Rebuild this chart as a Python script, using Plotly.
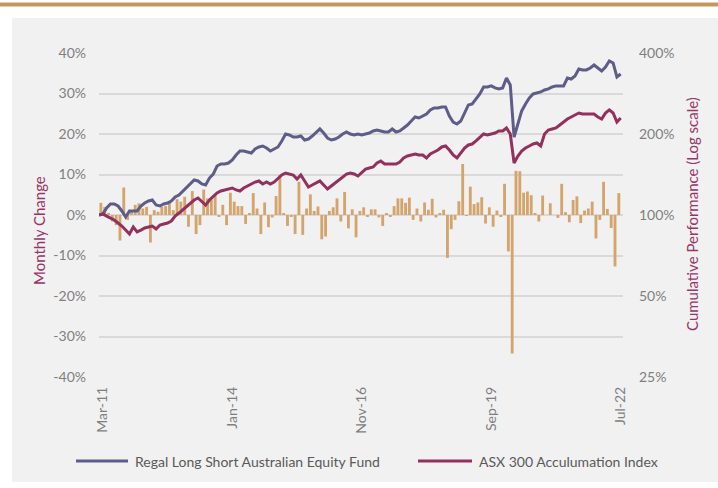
import numpy as np
import pandas as pd
import plotly.graph_objects as go

# ---------------- data ----------------
# month labels: Feb-11 is the base (100%) month of the cumulative lines
month_labels = pd.date_range("2011-02-01", "2022-07-01", freq="MS").strftime("%b-%y").tolist()
x_tick_labels = ["Mar-11", "Jan-14", "Nov-16", "Sep-19", "Jul-22"]

# Cumulative performance (growth of 100), Feb-11 .. Jul-22 (138 points)
regal_cum = [
    100.0, 100.9, 106.2, 109.9, 109.9, 108.0, 103.5, 98.3, 103.5, 103.5,
    103.5, 108.0, 110.8, 112.7, 113.7, 108.9, 108.0, 109.9, 110.8, 112.7,
    116.7, 118.7, 122.8, 126.0, 130.4, 134.9, 133.8, 130.4, 129.3, 137.2,
    142.0, 152.1, 154.7, 154.7, 156.0, 160.1, 167.1, 172.9, 172.9, 171.5,
    170.0, 175.9, 179.0, 180.5, 177.4, 172.9, 175.9, 179.0, 188.4, 200.0,
    198.3, 195.0, 195.0, 196.6, 190.0, 191.6, 196.6, 203.4, 208.8, 201.7,
    193.3, 190.0, 191.6, 195.0, 200.0, 203.4, 200.0, 198.3, 200.0, 198.3,
    200.0, 201.7, 205.3, 207.0, 205.3, 203.4, 203.4, 208.8, 203.4, 205.3,
    210.6, 216.0, 223.5, 231.3, 229.3, 233.3, 237.4, 245.7, 250.0, 250.0,
    252.0, 252.0, 233.3, 221.5, 217.8, 223.5, 239.4, 256.4, 258.6, 269.9,
    281.8, 299.1, 299.1, 301.8, 296.7, 294.2, 296.7, 322.9, 304.3, 194.9,
    219.7, 243.6, 258.6, 272.2, 281.8, 284.2, 286.6, 291.6, 294.2, 299.1,
    301.8, 301.8, 301.8, 322.9, 320.2, 328.5, 348.9, 346.0, 346.0, 351.9,
    361.0, 351.9, 343.1, 354.9, 373.7, 367.4, 325.7, 334.2,
]
asx_cum = [
    100.0, 100.9, 99.1, 97.5, 95.8, 93.4, 91.0, 87.9, 85.0, 90.2,
    86.5, 87.9, 89.5, 90.2, 91.0, 88.7, 91.8, 92.6, 93.4, 95.0,
    99.1, 101.7, 104.4, 107.1, 110.8, 113.7, 115.7, 112.7, 108.9, 113.7,
    117.6, 120.7, 122.8, 123.9, 124.9, 126.0, 123.9, 122.8, 126.0, 128.2,
    130.4, 132.6, 133.8, 130.4, 132.6, 130.4, 132.6, 136.1, 140.8, 143.2,
    142.0, 140.8, 136.1, 140.8, 133.8, 127.1, 129.3, 131.5, 133.8, 129.3,
    124.9, 128.2, 131.5, 134.9, 138.4, 142.0, 143.2, 142.0, 139.6, 144.5,
    148.2, 149.5, 150.8, 156.0, 158.7, 154.7, 154.7, 154.7, 154.7, 157.3,
    162.9, 165.7, 167.1, 168.6, 167.1, 167.1, 162.9, 168.6, 171.5, 174.4,
    179.0, 180.5, 174.4, 167.1, 162.9, 170.0, 177.4, 182.1, 183.6, 188.4,
    194.9, 200.0, 198.3, 200.0, 201.7, 205.3, 205.3, 210.6, 200.0, 156.0,
    165.7, 172.9, 177.4, 180.5, 183.6, 185.2, 180.5, 200.0, 207.0, 208.8,
    210.6, 216.0, 221.5, 227.4, 231.3, 235.4, 239.4, 237.4, 237.4, 237.4,
    237.4, 231.3, 227.4, 239.4, 245.7, 239.4, 221.5, 229.3,
]
# Regal monthly change (%), Mar-11 .. Jul-22 (137 bars)
regal_monthly = [
    3.0, 2.0, 0.5, -1.6, -2.5, -6.3, 6.8, -1.2, 0.8, 2.5,
    2.9, 1.6, 2.0, -6.8, 1.2, 0.8, 2.0, 2.2, 3.3, 1.2,
    3.9, 3.3, 4.5, -2.9, 5.9, -4.7, -2.5, 6.3, 4.1, 3.9,
    4.9, -0.4, 2.5, -2.5, 5.5, 3.3, 2.2, 2.2, -2.2, 0.5,
    5.4, 1.6, -4.7, 3.1, -3.0, -0.6, 4.7, 9.9, 0.5, -2.7,
    -0.5, -4.7, 8.2, -4.9, 1.6, 5.1, 1.0, 2.1, -6.0, -5.3,
    1.0, 1.9, 4.1, -1.6, 5.7, -3.3, 1.4, -5.5, 1.0, 1.9,
    -0.4, 1.4, 1.4, -0.6, -2.7, 0.4, -0.4, 2.2, 4.1, 4.1,
    3.0, 4.3, -1.2, 1.6, -1.6, 3.1, 1.3, 4.0, -0.6, 0.4,
    1.3, -10.6, -3.5, -1.2, 3.4, 12.6, -0.2, 7.0, 2.7, 3.1,
    4.4, -2.1, 1.9, -2.9, 1.1, -0.3, 7.7, -9.0, -34.2, 10.9,
    10.8, 5.5, 5.8, 4.9, 0.5, -1.6, 4.8, 0.0, 2.9, 0.0,
    -0.7, 7.7, 0.7, -1.8, 3.7, 4.6, -2.0, 1.1, 1.6, 3.3,
    -5.8, -1.2, 8.2, 1.5, -3.2, -12.7, 5.4,
]
left_ticks = [-40, -30, -20, -10, 0, 10, 20, 30, 40]
right_ticks = [25, 50, 100, 200, 400]
series_names = ["Regal Long Short Australian Equity Fund", "ASX 300 Acculumation Index"]

# ---------------- styling ----------------
GOLD = "#C4975F"
BAR = "#D3A46C"
REGAL = "#5E5C88"
ASX = "#93305E"
TITLE = "#9B3466"
TICK = "#7F7F7F"
GRID = "#D9D9D9"
FONT = "Lato"

line_x = np.arange(len(month_labels))
bar_x = line_x[1:] - 0.5
tickvals = [month_labels.index(t) for t in x_tick_labels]

fig = go.Figure()
fig.add_trace(go.Bar(x=bar_x, y=regal_monthly, marker=dict(color=BAR, line=dict(width=0)),
                     yaxis="y", showlegend=False, hoverinfo="skip"))
fig.add_trace(go.Scatter(x=line_x, y=regal_cum, mode="lines", yaxis="y2", name=series_names[0],
                         line=dict(color=REGAL, width=3), showlegend=False))
fig.add_trace(go.Scatter(x=line_x, y=asx_cum, mode="lines", yaxis="y2", name=series_names[1],
                         line=dict(color=ASX, width=3), showlegend=False))

W, PL, PT, PB = 524, 99, 53, 377
def px(x):
    return (x - PL) / W
def py(y):
    return (PB - y) / (PB - PT)

shapes = [
    dict(type="rect", xref="paper", yref="paper", x0=px(12), x1=px(730), y0=py(482), y1=py(18),
         fillcolor="#F1F1F1", line=dict(width=0), layer="below"),
    dict(type="line", xref="paper", yref="paper", x0=px(-5), x1=px(730), y0=py(4.5), y1=py(4.5),
         line=dict(color=GOLD, width=4)),
    dict(type="line", xref="paper", yref="paper", x0=px(76), x1=px(128), y0=py(461), y1=py(461),
         line=dict(color=REGAL, width=3)),
    dict(type="line", xref="paper", yref="paper", x0=px(418), x1=px(472), y0=py(461), y1=py(461),
         line=dict(color=ASX, width=3)),
]
annotations = [
    dict(text="Monthly Change", xref="paper", yref="paper", x=px(39), y=py(231), textangle=-90,
         xanchor="center", yanchor="middle",
         showarrow=False, font=dict(family=FONT, size=15, color=TITLE)),
    dict(text="Cumulative Performance (Log scale)", xref="paper", yref="paper", x=px(692), y=py(214),
         textangle=-90, xanchor="center", yanchor="middle",
         showarrow=False, font=dict(family=FONT, size=15, color=TITLE)),
    dict(text=series_names[0], xref="paper", yref="paper", x=px(133), y=py(461), xanchor="left",
         yanchor="middle", showarrow=False, font=dict(family=FONT, size=14, color="#595959")),
    dict(text=series_names[1], xref="paper", yref="paper", x=px(477), y=py(461), xanchor="left",
         yanchor="middle", showarrow=False, font=dict(family=FONT, size=14, color="#595959")),
]

fig.update_layout(
    width=718, height=488,
    margin=dict(l=PL, r=718 - PL - W, t=PT, b=488 - PB),
    paper_bgcolor="white", plot_bgcolor="rgba(0,0,0,0)",
    font=dict(family=FONT, size=14, color=TICK),
    bargap=0.25, showlegend=False,
    shapes=shapes, annotations=annotations,
    xaxis=dict(range=[0, 137.6], tickvals=tickvals, ticktext=x_tick_labels, tickangle=-90,
               showgrid=False, zeroline=False, showline=False, ticks="",
               tickfont=dict(family=FONT, size=14, color=TICK), ticklabelstandoff=6),
    yaxis=dict(range=[-40, 40], tickvals=left_ticks, ticktext=[f"{v}%" for v in left_ticks],
               showgrid=True, gridcolor=GRID, gridwidth=2, zeroline=True, zerolinecolor=GRID,
               zerolinewidth=2, showline=False, ticks="", ticklabelstandoff=12,
               tickfont=dict(family=FONT, size=14, color=TICK)),
    yaxis2=dict(type="log", range=[np.log10(25), np.log10(400)], overlaying="y", side="right",
                tickvals=right_ticks, ticktext=[f"{v}%" for v in right_ticks], showgrid=False,
                zeroline=False, showline=False, ticks="", ticklabelstandoff=15,
                tickfont=dict(family=FONT, size=14, color=TICK)),
)

fig.write_html("out.html", config={"displayModeBar": False},
               post_script="document.body.style.margin='0px';")
